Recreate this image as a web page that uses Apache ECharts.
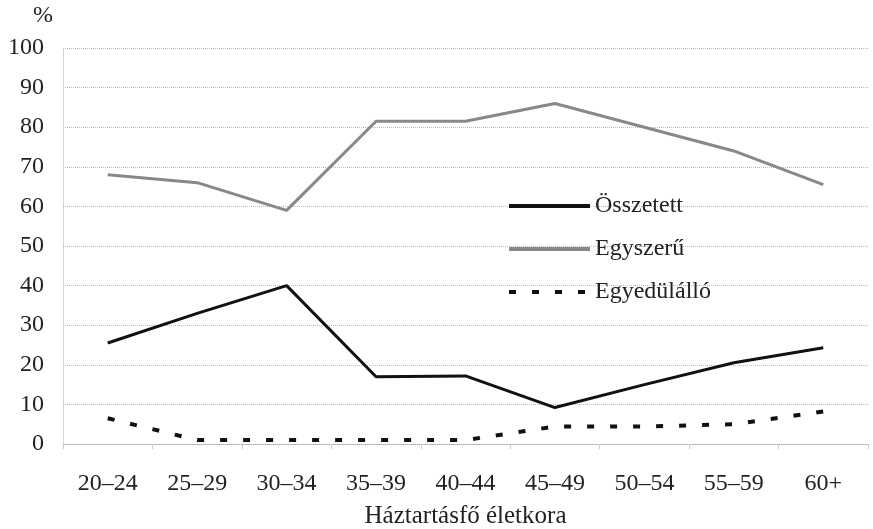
<!DOCTYPE html>
<html><head><meta charset="utf-8">
<script src="https://cdn.jsdelivr.net/npm/echarts@6/dist/echarts.min.js"></script>
<style>html,body{margin:0;padding:0;background:#fff}#c{width:873px;height:529px}</style>
</head><body><div id="c"></div>
<script>
const categories = ['20–24','25–29','30–34','35–39','40–44','45–49','50–54','55–59','60+'];
const osszetett = [25.5, 33, 40, 17, 17.2, 9.2, 15, 20.5, 24.3];
const egyszeru = [68, 66, 59, 81.5, 81.5, 86, 80, 74, 65.5];
const egyedulallo = [6.5, 1, 1, 1, 1, 4.4, 4.4, 5, 8.2];
const yTicks = [0,10,20,30,40,50,60,70,80,90,100];

const FONT = '"Liberation Serif", "DejaVu Serif", serif';
const chart = echarts.init(document.getElementById('c'), null, {renderer:'canvas'});
chart.setOption({
  animation:false,
  backgroundColor:'#fff',
  textStyle:{fontFamily:FONT, color:'#222'},
  grid:{left:63, right:5, top:48, bottom:85, containLabel:false, outerBoundsMode:'none'},
  legend:{
    orient:'vertical', left:502, top:189, itemWidth:81, itemHeight:14, itemGap:19,
    itemStyle:{opacity:0},
    lineStyle:{width:4},
    textStyle:{fontFamily:FONT, fontSize:24, color:'#222'},
    data:['Összetett','Egyszerű','Egyedülálló']
  },
  xAxis:{
    type:'category', data:categories, boundaryGap:true,
    name:'Háztartásfő életkora', nameLocation:'middle', nameGap:60,
    nameTextStyle:{fontFamily:FONT, fontSize:25, color:'#222'},
    axisLine:{show:true, lineStyle:{color:'#aaa', width:1, type:'dotted'}},
    axisTick:{show:true, length:5, lineStyle:{color:'#ccc'}},
    axisLabel:{fontFamily:FONT, fontSize:24, color:'#222', margin:28},
    splitLine:{show:false}
  },
  yAxis:{
    type:'value', min:yTicks[0], max:yTicks[yTicks.length-1], interval:10,
    name:'%', nameLocation:'end', nameGap:20,
    nameTextStyle:{fontFamily:FONT, fontSize:24, color:'#222', align:'right', padding:[0,10,0,0]},
    axisLine:{show:true, lineStyle:{color:'#ccc', width:1, type:'dotted'}},
    axisTick:{show:false},
    axisLabel:{fontFamily:FONT, fontSize:24, color:'#222', margin:19},
    splitLine:{show:true, lineStyle:{color:'#bbb', width:1, type:'dotted'}}
  },
  series:[
    {name:'Összetett', type:'line', data:osszetett, symbol:'none',
     lineStyle:{color:'#111', width:3}, itemStyle:{color:'#111'}},
    {name:'Egyszerű', type:'line', data:egyszeru, symbol:'none',
     lineStyle:{color:'#888', width:3}, itemStyle:{color:'#888'}},
    {name:'Egyedülálló', type:'line', data:egyedulallo, symbol:'none',
     lineStyle:{color:'#111', width:4, type:[7,16]}, itemStyle:{color:'#111'}}
  ]
});
</script></body></html>
